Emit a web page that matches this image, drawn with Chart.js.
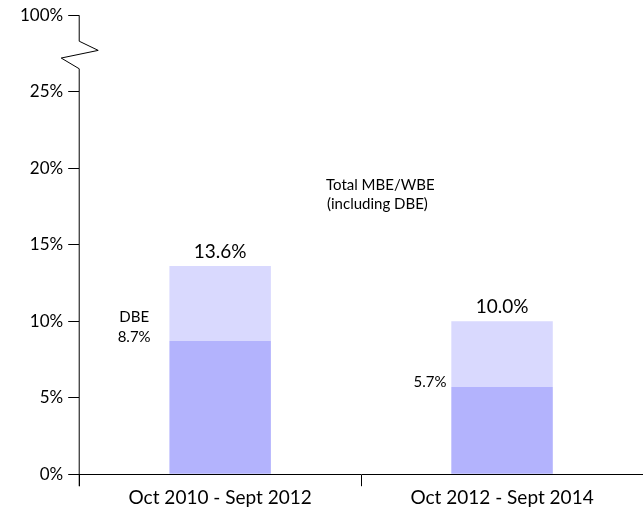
<!DOCTYPE html>
<html>
<head>
<meta charset="utf-8">
<script src="https://cdn.jsdelivr.net/npm/chart.js@4"></script>
<style>
  html, body { margin: 0; padding: 0; background: #fff; }
  #wrap { width: 643px; height: 515px; position: relative; }
</style>
</head>
<body>
<div id="wrap"><canvas id="chart"></canvas></div>
<script>
const categories = ['Oct 2010 - Sept 2012', 'Oct 2012 - Sept 2014'];
const dbeValues = [8.7, 5.7];
const totalValues = [13.6, 10.0];
const yTicks = [0, 5, 10, 15, 20, 25, 30];   // 30 stands in for the 100% tick above the break
const otherValues = totalValues.map((t, i) => +(t - dbeValues[i]).toFixed(1));

const FONT = 'Lato, "Open Sans", sans-serif';

// draws the broken y axis, the value labels and the notes
const extras = {
    id: 'extras',
    afterDraw(chart) {
        const c = chart.ctx;
        const y = chart.scales.y;
        const x = chart.scales.x;
        const ax = chart.chartArea.left;
        c.save();
        c.strokeStyle = '#000';
        c.lineWidth = 1;
        c.beginPath();
        c.moveTo(ax, y.getPixelForValue(0) + 12);
        c.lineTo(ax, y.getPixelForValue(26.5));
        c.lineTo(ax - 18, y.getPixelForValue(27.2));
        c.lineTo(ax + 19, y.getPixelForValue(27.7));
        c.lineTo(ax, y.getPixelForValue(28.3));
        c.lineTo(ax, y.getPixelForValue(30));
        c.stroke();

        c.fillStyle = '#000';
        c.textAlign = 'center';
        c.textBaseline = 'bottom';
        c.font = '19px ' + FONT;
        totalValues.forEach((t, i) => {
            c.fillText(t.toFixed(1) + '%', x.getPixelForValue(i), y.getPixelForValue(t) - 5);
        });

        c.font = '15px ' + FONT;
        c.textBaseline = 'middle';
        const x0 = x.getPixelForValue(0);
        c.fillText('DBE', x0 - 86, y.getPixelForValue(dbeValues[0]) - 24);
        c.fillText(dbeValues[0].toFixed(1) + '%', x0 - 86, y.getPixelForValue(dbeValues[0]) - 4);
        const x1 = x.getPixelForValue(1);
        c.fillText(dbeValues[1].toFixed(1) + '%', x1 - 72, y.getPixelForValue(dbeValues[1]) - 5);

        c.textAlign = 'left';
        c.fillText('Total MBE/WBE', 326, 185);
        c.fillText('(including DBE)', 327, 204);
        c.restore();
    }
};

new Chart(document.getElementById('chart'), {
    type: 'bar',
    data: {
        labels: categories,
        datasets: [
            { label: 'DBE', data: dbeValues, backgroundColor: '#b3b3fd', barPercentage: 0.36, categoryPercentage: 1 },
            { label: 'Total MBE/WBE', data: otherValues, backgroundColor: '#d9d9fe', barPercentage: 0.36, categoryPercentage: 1 }
        ]
    },
    options: {
        responsive: true,
        maintainAspectRatio: false,
        animation: false,
        layout: { padding: { left: 15, right: 0, top: 6, bottom: 6 } },
        plugins: { legend: { display: false }, tooltip: { enabled: false } },
        scales: {
            x: {
                stacked: true,
                grid: { offset: true, drawOnChartArea: false, drawTicks: true, tickLength: 12, color: '#000' },
                border: { display: true, color: '#000' },
                ticks: { color: '#000', font: { family: FONT, size: 19 }, padding: 0 }
            },
            y: {
                stacked: true,
                min: 0,
                max: 30,
                afterBuildTicks: s => { s.ticks = yTicks.map(v => ({ value: v })); },
                grid: { drawOnChartArea: false, drawTicks: true, tickLength: 11, color: '#000' },
                border: { display: false },
                ticks: {
                    color: '#000',
                    font: { family: FONT, size: 17 },
                    padding: 5,
                    callback: v => (v === 30 ? '100%' : v + '%')
                }
            }
        }
    },
    plugins: [extras]
});
</script>
</body>
</html>
